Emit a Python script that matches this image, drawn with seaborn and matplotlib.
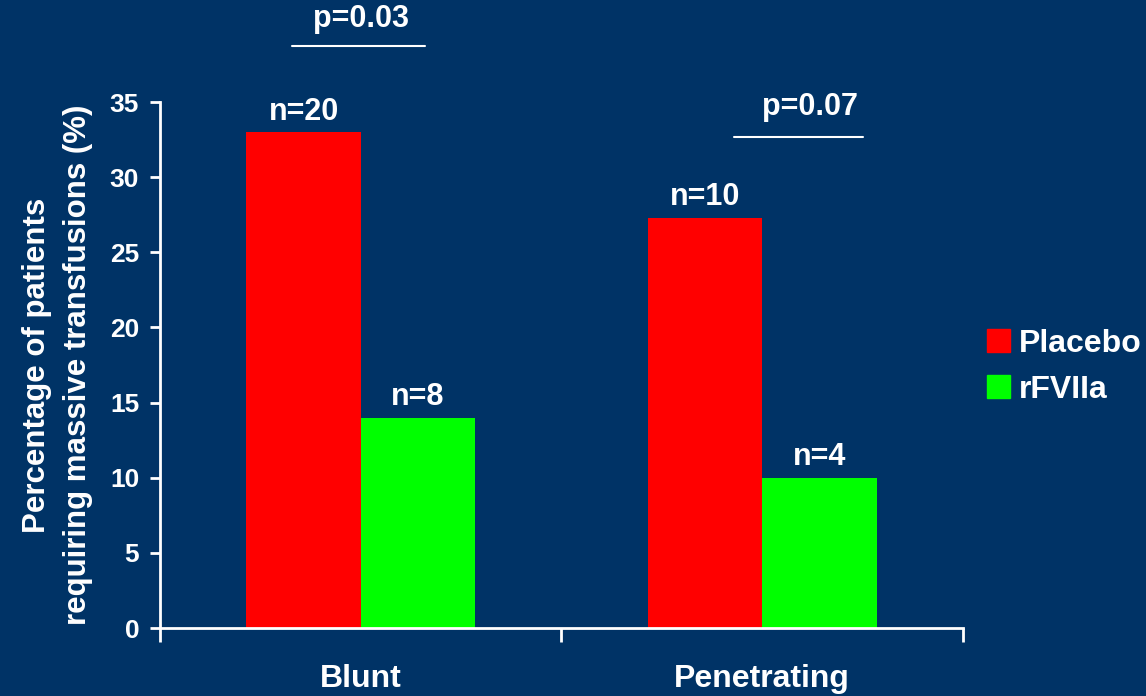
import numpy as np
import pandas as pd
import seaborn as sns
import matplotlib.pyplot as plt

# values
injury = ["Blunt", "Penetrating"]
groups = ["Placebo", "rFVIIa"]
placebo_pct = [33.0, 27.3]
rfviia_pct = [14.0, 10.0]
placebo_n = [20, 10]
rfviia_n = [8, 4]
p_values = ["p=0.03", "p=0.07"]

bg = "#003366"
fg = "white"
colors = {"Placebo": "#ff0000", "rFVIIa": "#00ff00"}

df = pd.DataFrame({
    "injury": injury * 2,
    "group": ["Placebo"] * 2 + ["rFVIIa"] * 2,
    "pct": placebo_pct + rfviia_pct,
    "n": placebo_n + rfviia_n,
})

sns.set_style("ticks")
plt.rcParams["font.family"] = ["Liberation Sans", "DejaVu Sans"]
plt.rcParams["font.weight"] = "bold"

fig = plt.figure(figsize=(11.46, 6.96), dpi=100, facecolor=bg)
ax = fig.add_axes([0.1396, 0.0977, 0.7007, 0.7557], facecolor=bg)

sns.barplot(data=df, x="injury", y="pct", hue="group", order=injury,
            hue_order=groups, palette=colors, width=0.57, saturation=1,
            linewidth=0, ax=ax, legend=False)

# n= labels on top of bars
for cont, g in zip(ax.containers, groups):
    ns = df[df.group == g]["n"].tolist()
    ax.bar_label(cont, labels=["n=%d" % k for k in ns], padding=4,
                 color=fg, fontsize=22, fontweight="bold")

ax.set_xlim(-0.5, 1.5)
ax.set_ylim(0, 35)
ax.set_yticks(np.arange(0, 36, 5))
ax.set_xticks([0, 1])
ax.set_xticks([-0.5, 0.5, 1.5], minor=True)
ax.tick_params(axis="x", which="major", length=0, pad=26, labelsize=23,
               colors=fg)
ax.tick_params(axis="x", which="minor", length=10, width=2, color=fg)
ax.tick_params(axis="y", length=7, width=2, colors=fg, labelsize=19, pad=8)
for lab in ax.get_xticklabels() + ax.get_yticklabels():
    lab.set_fontweight("bold")

for s in ["top", "right"]:
    ax.spines[s].set_visible(False)
for s in ["left", "bottom"]:
    ax.spines[s].set_color(fg)
    ax.spines[s].set_linewidth(2)

ax.set_xlabel("")
ax.set_ylabel("Percentage of patients\nrequiring massive transfusions (%)",
              color=fg, fontsize=22.5, fontweight="bold", labelpad=12,
              linespacing=1.5)

# p-value brackets
p_pos = [(0.0, 38.7, 39.5, -0.17, 0.16), (1.12, 32.7, 33.7, 0.93, 1.25)]
for txt, (xc, yl, yt, x0, x1) in zip(p_values, p_pos):
    ax.plot([x0, x1], [yl, yl], color=fg, lw=1.5, clip_on=False)
    ax.text(xc, yt, txt, color=fg, fontsize=22, fontweight="bold",
            ha="center", va="bottom", clip_on=False)

handles = [plt.Rectangle((0, 0), 1, 1, color=colors[g]) for g in groups]
fig.legend(handles, groups, loc="center left", bbox_to_anchor=(0.861, 0.473),
           frameon=False, labelcolor=fg, handlelength=0.72,
           handleheight=0.72, handletextpad=0.3, labelspacing=0.5,
           borderpad=0, borderaxespad=0,
           prop={"weight": "bold", "size": 23})

fig.savefig("out.png", dpi=100, facecolor=bg)
